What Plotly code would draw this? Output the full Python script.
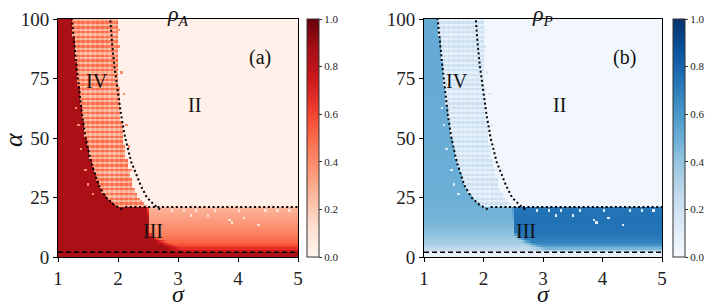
import numpy as np
import plotly.graph_objects as go
import plotly.colors as pc

# ---------------- data ----------------
sigma_ticks = [1, 2, 3, 4, 5]
alpha_ticks = [0, 25, 50, 75, 100]
cbar_ticks = [0.0, 0.2, 0.4, 0.6, 0.8, 1.0]

# dotted phase boundaries (sigma, alpha)
left_curve_alpha = [20, 22, 25, 30, 40, 50, 60, 70, 80, 90, 100]
left_curve_sigma = [2.07, 1.93, 1.80, 1.68, 1.55, 1.46, 1.40, 1.35, 1.31, 1.27, 1.23]
right_curve_alpha = [20, 22, 25, 30, 40, 50, 60, 70, 80, 90, 100]
right_curve_sigma = [2.70, 2.60, 2.48, 2.38, 2.22, 2.12, 2.05, 1.99, 1.94, 1.90, 1.87]
hline_alpha = 21.0
hline_sigma = [2.12, 5.0]
dashed_alpha = 2.0

# data edge of region IV (right side)
iv_edge_alpha = [21, 22, 25, 30, 40, 50, 60, 80, 100]
iv_edge_sigma = [2.48, 2.45, 2.35, 2.25, 2.15, 2.08, 2.05, 2.00, 1.98]

# low-alpha edge of region I inside region III
ext_alpha = [0, 2, 4, 6, 8, 10, 21]
ext_sigma = [3.10, 3.00, 2.90, 2.75, 2.60, 2.52, 2.50]
ext_width = [0.30, 0.30, 0.25, 0.20, 0.10, 0.02, 0.02]

# region levels
rhoA_I = 0.86
rhoA_II = 0.03
rhoP_II = 0.03
rhoP_bottom = 0.07
I_alpha = [0, 1.5, 3, 6, 10, 15, 25, 100]
rhoP_I = [0.08, 0.12, 0.25, 0.35, 0.42, 0.47, 0.50, 0.52]
III_alpha = [0, 1.5, 2.5, 4, 6, 10, 15, 20, 21]
rhoA_III = [0.86, 0.86, 0.75, 0.62, 0.52, 0.42, 0.35, 0.28, 0.25]
rhoP_III = [0.05, 0.08, 0.30, 0.55, 0.68, 0.74, 0.75, 0.74, 0.72]
rhoA_IV_pattern = [0.50, 0.30, 0.42, 0.24]
rhoP_IV_pattern = [0.22, 0.11, 0.18, 0.08]

# isolated light dots in region III
dot_sigma = [3.22, 3.50, 3.86, 3.90, 4.10, 4.35, 2.90, 3.10, 3.30, 3.62, 4.02, 4.46, 4.66, 4.86]
dot_alpha = [17.5, 17.5, 15.5, 14.5, 16.5, 13.5, 19.5, 19.5, 19.5, 19.5, 19.5, 19.5, 19.5, 19.5]
# stray region-IV cells
stray_sigma = [2.02, 2.06, 2.10, 2.14, 2.18, 1.34, 1.38, 1.46, 1.50, 1.58, 1.30, 2.02, 2.22]
stray_alpha = [88.5, 77.5, 68.5, 55.5, 46.5, 55.5, 45.5, 36.5, 30.5, 26.5, 62.5, 95.5, 36.5]

# grid (cell centres)
sig_c = np.round(1.02 + 0.04 * np.arange(100), 4)
alp_c = 0.5 + np.arange(100)

# ---------------- build the maps ----------------
ZA = np.zeros((100, 100))
ZP = np.zeros((100, 100))
for j, a in enumerate(alp_c):
    for i, s in enumerate(sig_c):
        if a < dashed_alpha:
            ZA[j, i] = rhoA_I
            ZP[j, i] = rhoP_bottom
        elif a <= hline_alpha:
            sb = np.interp(a, ext_alpha, ext_sigma)
            wd = np.interp(a, ext_alpha, ext_width)
            w = float(np.clip((sb - s) / wd + 0.5, 0, 1))
            ZA[j, i] = w * rhoA_I + (1 - w) * np.interp(a, III_alpha, rhoA_III)
            ZP[j, i] = w * np.interp(a, I_alpha, rhoP_I) + (1 - w) * np.interp(a, III_alpha, rhoP_III)
        else:
            sl = np.interp(a, left_curve_alpha, left_curve_sigma)
            sr = np.interp(a, iv_edge_alpha, iv_edge_sigma)
            if s < sl:
                ZA[j, i] = rhoA_I
                ZP[j, i] = np.interp(a, I_alpha, rhoP_I)
            elif s < sr:
                k = (i % 2) * 2 + (j % 2)
                ZA[j, i] = rhoA_IV_pattern[k]
                ZP[j, i] = rhoP_IV_pattern[k]
            else:
                ZA[j, i] = rhoA_II
                ZP[j, i] = rhoP_II

for s, a in zip(dot_sigma, dot_alpha):
    i = int(np.argmin(np.abs(sig_c - s)))
    j = int(np.argmin(np.abs(alp_c - a)))
    ZA[j, i] = 0.12
    ZP[j, i] = 0.12
for s, a in zip(stray_sigma, stray_alpha):
    i = int(np.argmin(np.abs(sig_c - s)))
    j = int(np.argmin(np.abs(alp_c - a)))
    ZA[j, i] = 0.40
    ZP[j, i] = 0.16

# ---------------- figure ----------------
W, H = 708, 308
FONT = "Liberation Serif"
reds = pc.sequential.Reds
blues = pc.sequential.Blues

ytop, ybot = 19, 257
ydom = [(H - ybot) / H, (H - ytop) / H]
xdomA = [58 / W, 298 / W]
xdomB = [424 / W, 662 / W]


def cbar(xpix):
    return dict(
        x=xpix / W, xanchor="left", y=sum(ydom) / 2, yanchor="middle",
        lenmode="pixels", len=ybot - ytop, thickness=12, thicknessmode="pixels",
        outlinewidth=1, outlinecolor="#333",
        tickvals=cbar_ticks, tickformat=".1f", ticks="outside", ticklen=3,
        tickcolor="#333", tickfont=dict(family=FONT, size=11, color="#222"),
        xpad=0, ypad=0,
    )


fig = go.Figure()
fig.add_trace(go.Heatmap(x=sig_c, y=alp_c, z=ZA, colorscale=reds, zmin=0, zmax=1,
                         xaxis="x", yaxis="y", hoverinfo="skip", colorbar=cbar(307)))
fig.add_trace(go.Heatmap(x=sig_c, y=alp_c, z=ZP, colorscale=blues, zmin=0, zmax=1,
                         xaxis="x2", yaxis="y2", hoverinfo="skip", colorbar=cbar(673)))

dot_style = dict(color="black", width=2, dash="2px,2.6px")
dash_style = dict(color="black", width=1.5, dash="5px,3px")
for xa, ya in [("x", "y"), ("x2", "y2")]:
    fig.add_trace(go.Scatter(x=left_curve_sigma, y=left_curve_alpha, mode="lines",
                             line=dot_style, xaxis=xa, yaxis=ya, showlegend=False, hoverinfo="skip"))
    fig.add_trace(go.Scatter(x=right_curve_sigma, y=right_curve_alpha, mode="lines",
                             line=dot_style, xaxis=xa, yaxis=ya, showlegend=False, hoverinfo="skip"))
    fig.add_trace(go.Scatter(x=hline_sigma, y=[hline_alpha, hline_alpha], mode="lines",
                             line=dot_style, xaxis=xa, yaxis=ya, showlegend=False, hoverinfo="skip"))
    fig.add_trace(go.Scatter(x=[1, 5], y=[dashed_alpha, dashed_alpha], mode="lines",
                             line=dash_style, xaxis=xa, yaxis=ya, showlegend=False, hoverinfo="skip"))

axis_common = dict(showgrid=False, zeroline=False, ticks="outside", ticklen=4,
                   tickcolor="black", showline=True, linecolor="black", linewidth=1,
                   mirror=True, automargin=False,
                   tickfont=dict(family=FONT, size=19, color="#222"))
fig.update_layout(
    width=W, height=H, margin=dict(l=0, r=0, t=0, b=0, autoexpand=False),
    paper_bgcolor="white", plot_bgcolor="white", showlegend=False,
    xaxis=dict(domain=xdomA, range=[1, 5], tickvals=sigma_ticks, anchor="y", **axis_common),
    yaxis=dict(domain=ydom, range=[0, 100], tickvals=alpha_ticks, anchor="x", **axis_common),
    xaxis2=dict(domain=xdomB, range=[1, 5], tickvals=sigma_ticks, anchor="y2", **axis_common),
    yaxis2=dict(domain=ydom, range=[0, 100], tickvals=alpha_ticks, anchor="x2", **axis_common),
)

ann = []
tf = dict(family=FONT, size=20, color="#111")
for xa, ya, lab in [("x", "y", "(a)"), ("x2", "y2", "(b)")]:
    ann.append(dict(x=4.37, y=84, xref=xa, yref=ya, text=lab, showarrow=False, font=tf))
    ann.append(dict(x=3.28, y=64, xref=xa, yref=ya, text="II", showarrow=False, font=tf))
ann.append(dict(x=1.65, y=74, xref="x", yref="y", text="IV", showarrow=False, font=tf))
ann.append(dict(x=1.55, y=74, xref="x2", yref="y2", text="IV", showarrow=False, font=tf))
ann.append(dict(x=2.58, y=11, xref="x", yref="y", text="III", showarrow=False, font=tf))
ann.append(dict(x=2.72, y=11, xref="x2", yref="y2", text="III", showarrow=False, font=tf))
# titles
for xd, t in ((xdomA, "<i>ρ<sub>A</sub></i>"), (xdomB, "<i>ρ<sub>P</sub></i>")):
    ann.append(dict(x=sum(xd) / 2, y=(H - 15) / H, xref="paper", yref="paper",
                    xanchor="center", yanchor="middle",
                    text=t, showarrow=False, font=dict(family=FONT, size=22, color="#111")))
# axis labels
for xd in (xdomA, xdomB):
    ann.append(dict(x=sum(xd) / 2, y=(H - 294) / H, xref="paper", yref="paper",
                    xanchor="center", yanchor="middle",
                    text="<i>σ</i>", showarrow=False, font=dict(family=FONT, size=24, color="#111")))
ann.append(dict(x=13 / W, y=(H - 140) / H, xref="paper", yref="paper", textangle=-90,
                xanchor="center", yanchor="middle",
                text="<i>α</i>", showarrow=False, font=dict(family=FONT, size=26, color="#111")))
fig.update_layout(annotations=ann)

fig.write_html("out.html")
